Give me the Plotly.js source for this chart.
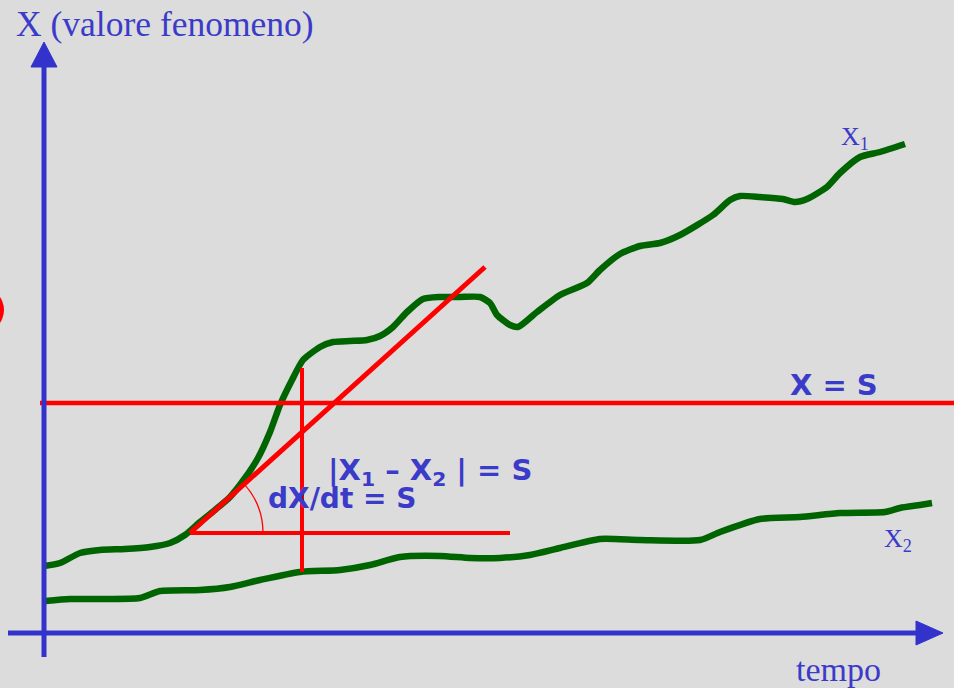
<!DOCTYPE html>
<html>
<head>
<meta charset="utf-8">
<script src="https://cdn.plot.ly/plotly-3.0.1.min.js"></script>
<style>html,body{margin:0;padding:0;background:#dcdcdc;}#chart{width:954px;height:688px;}</style>
</head>
<body>
<div id="chart"></div>
<script>
// Curve X1 (tempo, valore)
const tX1 = [44,60,80,100,125,150,170,185,200,215,230,245,258,270,280,292,303,320,333,350,367,380,393,407,423,440,460,480,490,497,510,518,537,560,587,600,620,640,660,680,713,730,740,760,783,795,807,827,840,860,880,905];
const vX1 = [122,125,135,138,139,141,145,153,166,178,191,210,230,256,283,308,328,341,346,347,348,352,361,376,389,391,391,391,385,373,363,361,376,393,405,418,434,442,445,453,473,488,492,491,489,486,489,501,515,531,536,544];
// Curve X2
const tX2 = [45,70,100,140,160,200,230,260,300,340,370,400,440,470,500,530,560,600,640,700,720,760,800,840,885,900,920,932];
const vX2 = [87,89,89,90,97,98,101,108,116,118,123,131,132,130,130,133,140,149,148,148,156,169,171,175,176,180,183,185];
// Threshold X = S
const thrT = [40,954];
const thrV = [285,285];
// Tangent dX/dt = S
const tanT = [190,485];
const tanV = [155,421];
// Base line of the angle
const baseT = [190,510];
const baseV = [155,155];
// |X1 - X2| = S segment
const gapT = [302,302];
const gapV = [320,116];

const green = '#006400', red = '#ff0000', axisBlue = '#3333cc', txtBlue = '#3b3bc9';

const traces = [
  {x: tX1, y: vX1, mode: 'lines', line: {color: green, width: 6.5, shape: 'spline', smoothing: 0.6}, hoverinfo: 'skip'},
  {x: tX2, y: vX2, mode: 'lines', line: {color: green, width: 6.5, shape: 'spline', smoothing: 0.6}, hoverinfo: 'skip'},
  {x: thrT, y: thrV, mode: 'lines', line: {color: red, width: 4.5}, hoverinfo: 'skip'},
  {x: baseT, y: baseV, mode: 'lines', line: {color: red, width: 4}, hoverinfo: 'skip'},
  {x: gapT, y: gapV, mode: 'lines', line: {color: red, width: 4}, hoverinfo: 'skip'},
  {x: tanT, y: tanV, mode: 'lines', line: {color: red, width: 5}, hoverinfo: 'skip'}
];

// angle arc (cubic Bezier approx of circle arc around tangent origin)
const cx = tanT[0], cy = tanV[0], r = 73;
const th = Math.atan2(tanV[1]-tanV[0], tanT[1]-tanT[0]);
const k = 4/3*Math.tan(th/4)*r;
const ex = cx + r*Math.cos(th), ey = cy + r*Math.sin(th);
const arcPath = `M ${cx+r} ${cy} C ${cx+r} ${cy+k} ${ex + k*Math.sin(th)} ${ey - k*Math.cos(th)} ${ex} ${ey}`;

const shapes = [
  {type:'line', x0:44, x1:44, y0:31, y1:625, line:{color:axisBlue, width:5}},
  {type:'path', path:'M 31 621 L 57 621 L 44 646 Z', fillcolor:axisBlue, line:{color:axisBlue, width:1}},
  {type:'line', x0:8, x1:920, y0:55, y1:55, line:{color:axisBlue, width:5}},
  {type:'path', path:'M 916 67 L 916 43 L 943 55 Z', fillcolor:axisBlue, line:{color:axisBlue, width:1}},
  {type:'circle', x0:-42, x1:4, y0:355, y1:401, fillcolor:red, line:{color:red, width:0}},
  {type:'path', path: arcPath, line:{color:red, width:1.3}}
];

const serif = 'Liberation Serif, Times New Roman, serif';
const sans = 'DejaVu Sans, Arial, sans-serif';
function ann(text, x, y, family, size) {
  return {text, x, y, xref:'x', yref:'y', xanchor:'left', yanchor:'middle', showarrow:false,
          font:{family, size, color:txtBlue}};
}
const annotations = [
  ann('X (valore fenomeno)', 14, 664, serif, 35.5),
  ann('tempo', 794, 19, serif, 34),
  ann('X<sub>1</sub>', 839, 550, serif, 26),
  ann('X<sub>2</sub>', 882, 148, serif, 26),
  ann('<b>X = S</b>', 788, 303, sans, 29),
  ann('<b>|X<sub>1</sub> – X<sub>2</sub> | = S</b>', 326, 216, sans, 29),
  ann('<b>dX/dt = S</b>', 266, 190, sans, 28)
];

const layout = {
  width: 954, height: 688,
  margin: {l:0, r:0, t:0, b:0, pad:0},
  paper_bgcolor: '#dcdcdc', plot_bgcolor: '#dcdcdc',
  showlegend: false,
  xaxis: {range:[0,954], visible:false, fixedrange:true},
  yaxis: {range:[0,688], visible:false, fixedrange:true},
  shapes, annotations
};
Plotly.newPlot('chart', traces, layout, {staticPlot:true, displayModeBar:false});
</script>
</body>
</html>
